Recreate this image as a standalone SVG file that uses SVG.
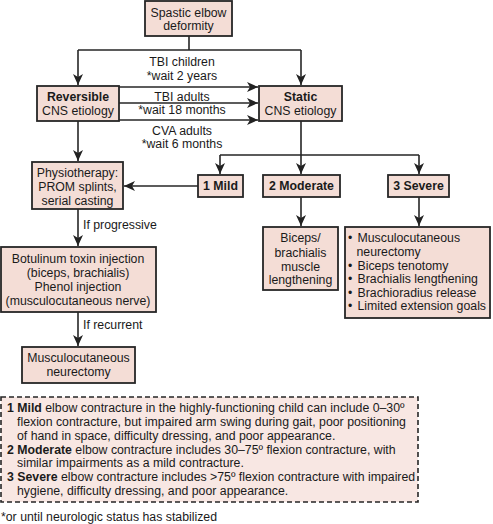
<svg xmlns="http://www.w3.org/2000/svg" width="493" height="524" viewBox="0 0 493 524">
<defs>
<marker id="ah" markerUnits="userSpaceOnUse" markerWidth="12" markerHeight="12" viewBox="0 0 12 12" refX="11" refY="6" orient="auto">
<path d="M0,1 L11,6 L0,11 L3,6 Z" fill="#222"/>
</marker>
</defs>
<style>
.b{fill:#f4ddd6;stroke:#262626;stroke-width:1.8}
.t{font-family:"Liberation Sans",Arial,sans-serif;font-size:12.3px;fill:#1a1a1a}
.m{text-anchor:middle}
.bd{font-weight:bold}
.c{fill:none;stroke:#262626;stroke-width:1.6}
</style>
<rect width="493" height="524" fill="#ffffff"/>
<g id="connectors">
<path class="c" d="M189,36 V50 M78,50 H301"/>
<path class="c" d="M78,50 V85" marker-end="url(#ah)"/>
<path class="c" d="M301,50 V85" marker-end="url(#ah)"/>
<path class="c" d="M119,87 H258" marker-end="url(#ah)"/>
<path class="c" d="M119,103 H258" marker-end="url(#ah)"/>
<path class="c" d="M119,120 H258" marker-end="url(#ah)"/>
<path class="c" d="M78,121 V161" marker-end="url(#ah)"/>
<path class="c" d="M301,121 V155 M220,155 H419"/>
<path class="c" d="M220,155 V174" marker-end="url(#ah)"/>
<path class="c" d="M301,155 V174" marker-end="url(#ah)"/>
<path class="c" d="M419,155 V174" marker-end="url(#ah)"/>
<path class="c" d="M198,186 H124" marker-end="url(#ah)"/>
<path class="c" d="M301,197 V226" marker-end="url(#ah)"/>
<path class="c" d="M419,197 V226" marker-end="url(#ah)"/>
<path class="c" d="M78,209 V246" marker-end="url(#ah)"/>
<path class="c" d="M78,312 V346" marker-end="url(#ah)"/>
<text class="t m" x="182" y="66">TBI children</text>
<text class="t m" x="182" y="80">*wait 2 years</text>
<text class="t m" x="182" y="101">TBI adults</text>
<text class="t m" x="182" y="114">*wait 18 months</text>
<text class="t m" x="182" y="135">CVA adults</text>
<text class="t m" x="182" y="148">*wait 6 months</text>
<text class="t" x="83" y="229">If progressive</text>
<text class="t" x="83" y="329">If recurrent</text>
</g>
<g id="spastic">
<rect class="b" x="145" y="1" width="87" height="35"/>
<text class="t m" x="188.5" y="17">Spastic elbow</text>
<text class="t m" x="188.5" y="30">deformity</text>
</g>
<g id="reversible">
<rect class="b" x="37" y="86" width="82" height="35"/>
<text class="t m bd" x="78" y="101">Reversible</text>
<text class="t m" x="78" y="115">CNS etiology</text>
</g>
<g id="static">
<rect class="b" x="259" y="86" width="83" height="35"/>
<text class="t m bd" x="300.5" y="101">Static</text>
<text class="t m" x="300.5" y="115">CNS etiology</text>
</g>
<g id="physio">
<rect class="b" x="32" y="162" width="91" height="47"/>
<text class="t m" x="77.5" y="177">Physiotherapy:</text>
<text class="t m" x="77.5" y="191">PROM splints,</text>
<text class="t m" x="77.5" y="205">serial casting</text>
</g>
<g id="mild">
<rect class="b" x="198" y="175" width="45" height="22"/>
<text class="t m bd" x="220.5" y="190">1 Mild</text>
</g>
<g id="moderate">
<rect class="b" x="263" y="175" width="77" height="22"/>
<text class="t m bd" x="301.5" y="190">2 Moderate</text>
</g>
<g id="severe">
<rect class="b" x="388" y="175" width="61" height="22"/>
<text class="t m bd" x="418.5" y="190">3 Severe</text>
</g>
<g id="botulinum">
<rect class="b" x="1" y="247" width="155" height="65"/>
<text class="t m" x="78" y="263">Botulinum toxin injection</text>
<text class="t m" x="78" y="277">(biceps, brachialis)</text>
<text class="t m" x="78" y="291">Phenol injection</text>
<text class="t m" x="78" y="305">(musculocutaneous nerve)</text>
</g>
<g id="neurectomy">
<rect class="b" x="22" y="347" width="113" height="36"/>
<text class="t m" x="78.5" y="362">Musculocutaneous</text>
<text class="t m" x="78.5" y="376">neurectomy</text>
</g>
<g id="biceps">
<rect class="b" x="263" y="227" width="75" height="63"/>
<text class="t m" x="300.5" y="242">Biceps/</text>
<text class="t m" x="300.5" y="257">brachialis</text>
<text class="t m" x="300.5" y="271">muscle</text>
<text class="t m" x="300.5" y="284">lengthening</text>
</g>
<g id="severe-list">
<rect class="b" x="345" y="227" width="145" height="91"/>
<text class="t" x="348" y="242">•</text><text class="t" x="357.5" y="242">Musculocutaneous</text>
<text class="t" x="356.5" y="256">neurectomy</text>
<text class="t" x="348" y="270">•</text><text class="t" x="357.5" y="270">Biceps tenotomy</text>
<text class="t" x="348" y="283">•</text><text class="t" x="357.5" y="283">Brachialis lengthening</text>
<text class="t" x="348" y="297">•</text><text class="t" x="357.5" y="297">Brachioradius release</text>
<text class="t" x="348" y="310">•</text><text class="t" x="357.5" y="310">Limited extension goals</text>
</g>
<g id="legend">
<rect x="1" y="397" width="417" height="105" fill="#f8e7e3" stroke="#262626" stroke-width="1.6" stroke-dasharray="5,3"/>
<text class="t" x="7" y="412"><tspan class="bd">1 Mild</tspan> elbow contracture in the highly-functioning child can include 0–30º</text>
<text class="t" x="17" y="426">flexion contracture, but impaired arm swing during gait, poor positioning</text>
<text class="t" x="17" y="440">of hand in space, difficulty dressing, and poor appearance.</text>
<text class="t" x="7" y="454"><tspan class="bd">2 Moderate</tspan> elbow contracture includes 30–75º flexion contracture, with</text>
<text class="t" x="17" y="467">similar impairments as a mild contracture.</text>
<text class="t" x="7" y="481"><tspan class="bd">3 Severe</tspan> elbow contracture includes &gt;75º flexion contracture with impaired</text>
<text class="t" x="17" y="495">hygiene, difficulty dressing, and poor appearance.</text>
</g>
<text class="t" x="1" y="521">*or until neurologic status has stabilized</text>
</svg>
